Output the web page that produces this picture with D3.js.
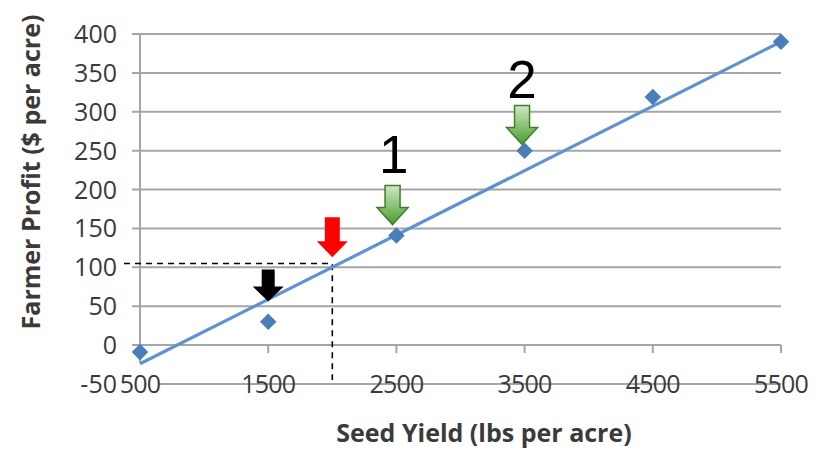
<!DOCTYPE html>
<html>
<head>
<meta charset="utf-8">
<script src="https://cdn.jsdelivr.net/npm/d3@7"></script>
<style>
  html, body { margin: 0; padding: 0; background: #fff; }
  svg { display: block; }
</style>
</head>
<body>
<svg id="chart" width="821" height="449"></svg>
<script>
// ---- data ----
const seedYield = [500, 1500, 2500, 3500, 4500, 5500];
const farmerProfit = [-9, 30, 141, 250, 319, 390];
const trendYield = [500, 5500];               // linear trendline ends
const trendProfit = [-24, 390];
const xTicks = [500, 1500, 2500, 3500, 4500, 5500];
const yTicks = [-50, 0, 50, 100, 150, 200, 250, 300, 350, 400];
const breakEvenPoint = [2000, 105];           // dashed guide
const arrowX = [1500, 2000, 2470, 3480];      // arrow tip x (seed yield)
const arrowY = [56, 113, 155, 258];           // arrow tip y (profit)
const arrowKind = ["black", "red", "green", "green"];
const labelText = ["1", "2"];
const labelX = [2480, 3480];
const labelY = [221, 318];
const xTitle = "Seed Yield (lbs per acre)";
const yTitle = "Farmer Profit ($ per acre)";

// ---- styles ----
const gridColor = "#a6a6a6";
const textColor = "#3a3a3a";
const blue = "#4a7ebb";
const trendBlue = "#5f93d0";
const arrowStyle = {
  black: { fill: "#000", stroke: "none", len: 32, headLen: 15, shaftW: 13, headW: 31 },
  red:   { fill: "#ff0000", stroke: "none", len: 40, headLen: 16, shaftW: 15, headW: 31 },
  green: { fill: "url(#greenGrad)", stroke: "#3f7d2a", len: 39, headLen: 17, shaftW: 15, headW: 31 }
};

const svg = d3.select("#chart");
const x = d3.scaleLinear().domain([500, 5500]).range([140, 781]);
const y = d3.scaleLinear().domain([-50, 400]).range([384, 34]);

const defs = svg.append("defs");
const g1 = defs.append("linearGradient").attr("id", "greenGrad")
  .attr("x1", 0).attr("y1", 0).attr("x2", 0).attr("y2", 1);
g1.append("stop").attr("offset", "0%").attr("stop-color", "#cde8c6");
g1.append("stop").attr("offset", "55%").attr("stop-color", "#86c071");
g1.append("stop").attr("offset", "100%").attr("stop-color", "#4a9a2e");

// gridlines
svg.append("g").selectAll("line").data(yTicks).join("line")
  .attr("x1", d => d === -50 ? x(500) + 18 : x(500) - 8)
  .attr("x2", x(5500))
  .attr("y1", d => y(d)).attr("y2", d => y(d))
  .attr("stroke", gridColor).attr("stroke-width", 2);

// vertical axis line
svg.append("line")
  .attr("x1", x(500)).attr("x2", x(500))
  .attr("y1", y(400)).attr("y2", y(0) + 18)
  .attr("stroke", gridColor).attr("stroke-width", 2);

// x tick marks at y=0
svg.append("g").selectAll("line").data(xTicks).join("line")
  .attr("x1", d => x(d)).attr("x2", d => x(d))
  .attr("y1", y(0)).attr("y2", y(0) + 8)
  .attr("stroke", gridColor).attr("stroke-width", 2);

// y tick labels
svg.append("g").selectAll("text").data(yTicks).join("text")
  .attr("x", 117).attr("y", d => y(d))
  .attr("dy", "0.36em")
  .attr("text-anchor", "end")
  .attr("font-family", "Open Sans, sans-serif")
  .attr("font-size", 25)
  .attr("fill", textColor)
  .text(d => d);

// x tick labels
svg.append("g").selectAll("text").data(xTicks).join("text")
  .attr("x", d => x(d)).attr("y", y(-50))
  .attr("dy", "0.36em")
  .attr("text-anchor", "middle")
  .attr("font-family", "Open Sans, sans-serif")
  .attr("font-size", 25)
  .attr("letter-spacing", "-0.8px")
  .attr("fill", textColor)
  .text(d => d);

// axis titles
svg.append("text")
  .attr("x", 484).attr("y", 433)
  .attr("dy", "0.36em")
  .attr("text-anchor", "middle")
  .attr("font-family", "Open Sans, sans-serif")
  .attr("font-weight", "bold")
  .attr("font-size", 25)
  .attr("fill", textColor)
  .text(xTitle);

svg.append("text")
  .attr("transform", "translate(31,172) rotate(-90)")
  .attr("dy", "0.36em")
  .attr("text-anchor", "middle")
  .attr("font-family", "Open Sans, sans-serif")
  .attr("font-weight", "bold")
  .attr("font-size", 25)
  .attr("fill", textColor)
  .text(yTitle);

// dashed guides
svg.append("path")
  .attr("d", d3.line()([
    [x(500) - 16, y(breakEvenPoint[1])],
    [x(breakEvenPoint[0]), y(breakEvenPoint[1])],
    [x(breakEvenPoint[0]), y(-50) - 4]
  ]))
  .attr("fill", "none").attr("stroke", "#000")
  .attr("stroke-width", 1.6).attr("stroke-dasharray", "6,5");

// linear trendline
svg.append("path")
  .attr("d", d3.line().x(d => x(d[0])).y(d => y(d[1]))(trendYield.map((v, i) => [v, trendProfit[i]])))
  .attr("stroke", trendBlue).attr("stroke-width", 3.2).attr("fill", "none");

// diamonds
svg.append("g").selectAll("path").data(seedYield).join("path")
  .attr("d", d3.symbol(d3.symbolDiamond2, 175)())
  .attr("transform", (d, i) => `translate(${x(d)},${y(farmerProfit[i])})`)
  .attr("fill", blue);

// arrows
function arrowPath(s) {
  const sw = s.shaftW / 2, hw = s.headW / 2;
  return `M${-sw},${-s.len} L${sw},${-s.len} L${sw},${-s.headLen} L${hw},${-s.headLen} L0,0 L${-hw},${-s.headLen} L${-sw},${-s.headLen} Z`;
}
svg.append("g").selectAll("path").data(arrowX).join("path")
  .attr("transform", (d, i) => `translate(${x(d)},${y(arrowY[i])})`)
  .attr("d", (d, i) => arrowPath(arrowStyle[arrowKind[i]]))
  .attr("fill", (d, i) => arrowStyle[arrowKind[i]].fill)
  .attr("stroke", (d, i) => arrowStyle[arrowKind[i]].stroke)
  .attr("stroke-width", 1.5)
  .attr("stroke-linejoin", "miter");

// number labels
svg.append("g").selectAll("text").data(labelText).join("text")
  .attr("x", (d, i) => x(labelX[i])).attr("y", (d, i) => y(labelY[i]))
  .attr("text-anchor", "middle")
  .attr("font-family", "Liberation Sans, Arial, sans-serif")
  .attr("font-size", 53)
  .attr("fill", "#000")
  .text(d => d);
</script>
</body>
</html>
